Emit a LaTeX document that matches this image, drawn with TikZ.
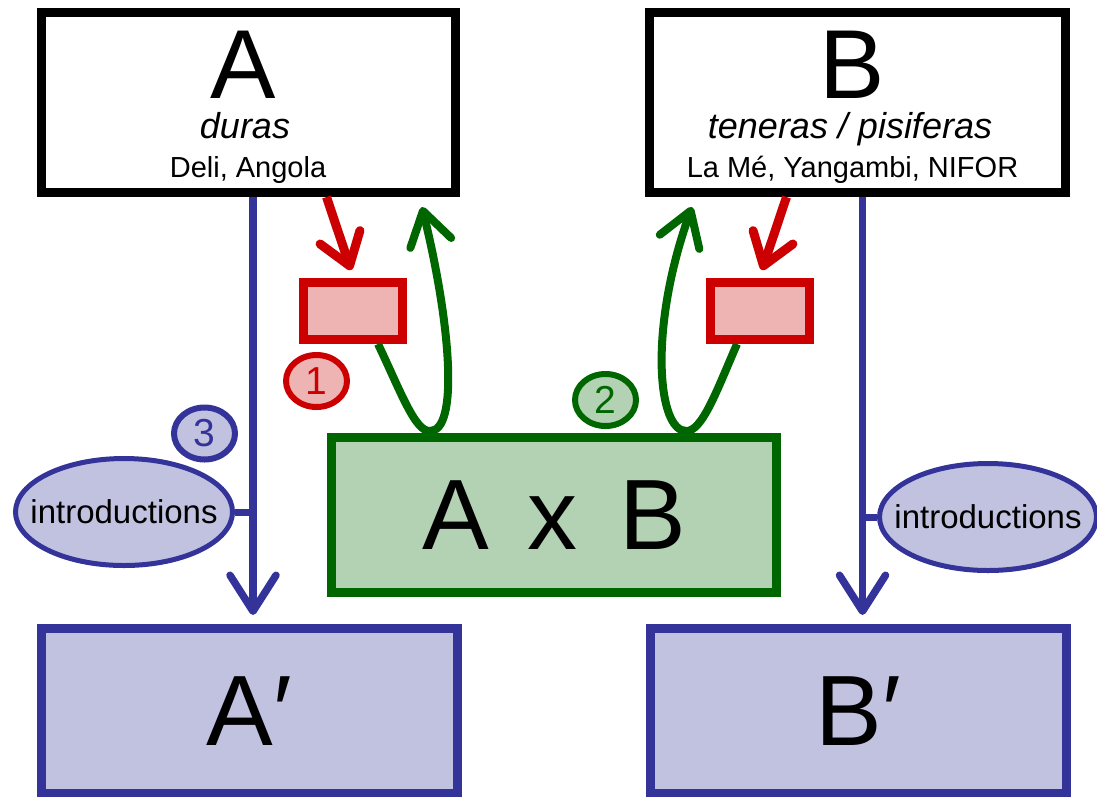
\documentclass[tikz,border=0pt]{standalone}
\usepackage{fontspec}
\setmainfont{Liberation Sans}
\usetikzlibrary{arrows.meta,shapes.geometric}
\definecolor{redline}{HTML}{CC0000}
\definecolor{redfill}{HTML}{EEB3B3}
\definecolor{greenline}{HTML}{006600}
\definecolor{greenfill}{HTML}{B3D2B3}
\definecolor{blueline}{HTML}{333399}
\definecolor{bluefill}{HTML}{C1C1E0}
\tikzset{
  parent/.style={draw=black,line width=9pt,minimum width=414pt,minimum height=180pt,inner sep=0pt},
  label/.style={anchor=base,inner sep=0pt},
  hybrid/.style={draw=greenline,fill=greenfill,line width=9pt,minimum width=445pt,minimum height=155pt,inner sep=0pt,font=\fontsize{100}{100}\selectfont},
  improved/.style={draw=blueline,fill=bluefill,line width=9pt,minimum width=416pt,minimum height=164.5pt,inner sep=0pt,font=\fontsize{100}{100}\selectfont},
  testbox/.style={draw=redline,fill=redfill,line width=9pt,minimum width=99pt,minimum height=57pt,inner sep=0pt},
  stepnum/.style={ellipse,line width=6pt,minimum width=61pt,minimum height=52pt,inner sep=0pt,font=\fontsize{39}{39}\selectfont},
  intro/.style={ellipse,draw=blueline,fill=bluefill,line width=5pt,minimum width=217pt,minimum height=107pt,inner xsep=-18pt,inner ysep=0pt,font=\fontsize{33}{33}\selectfont},
  redarrow/.style={draw=redline,line width=9pt,-{Straight Barb[length=30pt,width=42pt,round]}},
  greenarrow/.style={draw=greenline,line width=8pt,-{Straight Barb[length=33pt,width=42pt,round]}},
  bluearrow/.style={draw=blueline,line width=7.5pt,-{Straight Barb[length=36pt,width=46pt,round]}},
}
\begin{document}
\begin{tikzpicture}[x=1pt,y=-1pt]
\useasboundingbox (0,0) rectangle (1097,796);
% parents
\node[parent] (A) at (248.5,102.5) {};
\node[label] (Aname) at (243,98) {\fontsize{98}{98}\selectfont A};
\node[label] (Atype) at (245,138) {\fontsize{36}{36}\selectfont\itshape duras};
\node[label] (Aorig) at (248,177) {\fontsize{29}{29}\selectfont Deli, Angola};
\node[parent,minimum width=416pt] (B) at (857.5,102.5) {};
\node[label] (Bname) at (852.5,98) {\fontsize{98}{98}\selectfont B};
\node[label] (Btype) at (850,138) {\fontsize{36}{36}\selectfont\itshape teneras / pisiferas};
\node[label] (Borig) at (852.5,177) {\fontsize{29}{29}\selectfont La Mé, Yangambi, NIFOR};
% hybrid and tests
\node[hybrid] (AB) at (554,515) {A\hspace{38pt}x\hspace{42pt}B};
\node[testbox] (testA) at (353,311) {};
\node[testbox] (testB) at (759.5,311) {};
% improved populations
\node[improved] (A2) at (249.5,710.75) {A′};
\node[improved] (B2) at (858.5,710.75) {B′};
\node[intro] (introA) at (124,512) {introductions};
\node[intro] (introB) at (988,517) {introductions};
% step numbers
\node[stepnum,draw=redline,fill=redfill,text=redline] (one) at (316.5,381) {1};
\node[stepnum,draw=greenline,fill=greenfill,text=greenline] (two) at (605.5,400) {2};
\node[stepnum,draw=blueline,fill=bluefill,text=blueline] (three) at (204.5,433.5) {3};
% red arrows
\draw[redarrow] ([xshift=78pt]A.south) -- ([xshift=-2pt,yshift=8pt]testA.north);
\draw[redarrow] ([xshift=-71pt]B.south) -- ([xshift=2.5pt,yshift=8pt]testB.north);
% green loops
\coordinate (loopA) at (430,431);
\coordinate (loopB) at (686,431);
\draw[greenarrow] ([xshift=25pt]testA.south) .. controls +(22,46) and +(-15,1) .. (loopA)
  .. controls +(28,0) and +(30,123) .. ([xshift=173.5pt,yshift=-10pt]A.south);
\draw[greenarrow] ([xshift=-22.5pt]testB.south) .. controls +(-20,46) and +(16,1) .. (loopB)
  .. controls +(-28,0) and +(-44,123) .. ([xshift=-165.5pt,yshift=-10pt]B.south);
% blue arrows
\coordinate (downA) at ([xshift=4.5pt]A.south);
\coordinate (downB) at ([xshift=5pt]B.south);
\draw[bluearrow] (downA) -- ([yshift=9pt]downA |- A2.north);
\draw[bluearrow] (downB) -- ([yshift=9pt]downB |- B2.north);
\draw[blueline,line width=7pt] (introA.east) -- (introA.east -| downA);
\draw[blueline,line width=7pt] (introB.west) -- (introB.west -| downB);
\end{tikzpicture}
\end{document}
